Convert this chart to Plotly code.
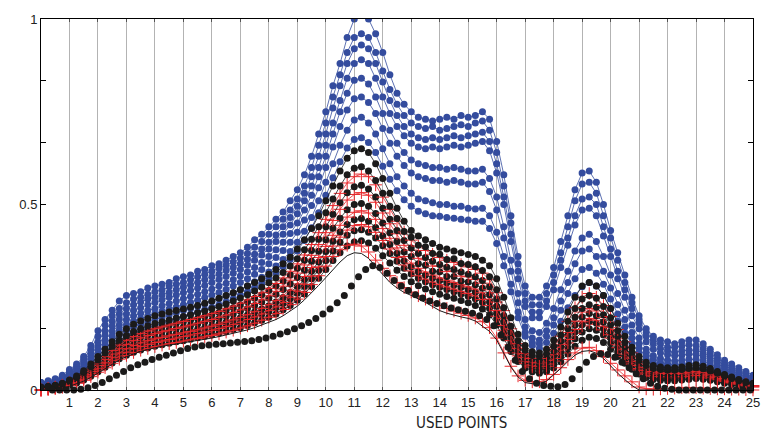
import plotly.graph_objects as go

# sampling grid (x axis "used points")
x_points = [i * 0.25 for i in range(101)]
x_shifted = [0.4 + i * 0.25 for i in range(101)]

x_tick_vals = list(range(1, 26))
x_tick_text = [str(v) for v in x_tick_vals]
y_tick_vals = [0, 1/6, 2/6, 0.5, 4/6, 5/6, 1]
y_tick_text = ["0", "", "", "0.5", "", "", "1"]
x_title = "USED POINTS"

blue_1 = [0.02,0.025,0.03,0.04,0.055,0.07,0.09,0.12,0.16,0.19,
          0.215,0.24,0.255,0.26,0.265,0.275,0.28,0.285,0.29,0.30,
          0.305,0.31,0.32,0.325,0.335,0.34,0.35,0.36,0.37,0.385,
          0.405,0.42,0.44,0.46,0.48,0.51,0.54,0.58,0.63,0.69,
          0.75,0.82,0.88,0.95,1.0,1.02,1.0,0.96,0.91,0.85,
          0.80,0.77,0.75,0.735,0.73,0.725,0.73,0.735,0.73,0.74,
          0.735,0.74,0.75,0.73,0.67,0.58,0.47,0.36,0.28,0.25,
          0.25,0.28,0.33,0.4,0.47,0.54,0.585,0.59,0.56,0.5,
          0.43,0.37,0.31,0.25,0.2,0.165,0.145,0.135,0.13,0.125,
          0.13,0.135,0.135,0.125,0.11,0.095,0.08,0.07,0.06,0.05,
          0.04]
blue_2 = [0.02,0.022,0.028,0.036,0.05,0.065,0.085,0.11,0.145,0.175,
          0.2,0.22,0.235,0.245,0.25,0.258,0.265,0.27,0.278,0.285,
          0.29,0.297,0.305,0.312,0.32,0.328,0.336,0.345,0.355,0.368,
          0.385,0.4,0.42,0.44,0.46,0.485,0.515,0.55,0.6,0.66,
          0.72,0.79,0.85,0.91,0.95,0.96,0.95,0.91,0.86,0.81,
          0.77,0.74,0.72,0.71,0.705,0.71,0.7,0.705,0.71,0.715,
          0.71,0.72,0.725,0.7,0.64,0.55,0.45,0.34,0.26,0.23,
          0.23,0.26,0.31,0.37,0.44,0.51,0.555,0.56,0.53,0.47,
          0.41,0.35,0.29,0.235,0.19,0.155,0.135,0.125,0.115,0.115,
          0.118,0.122,0.12,0.112,0.1,0.085,0.072,0.062,0.053,0.045,
          0.035]
blue_3 = [0.018,0.02,0.025,0.033,0.046,0.06,0.078,0.1,0.13,0.16,
          0.185,0.205,0.22,0.23,0.237,0.245,0.25,0.257,0.263,0.27,
          0.277,0.283,0.29,0.297,0.305,0.313,0.322,0.33,0.34,0.352,
          0.366,0.38,0.398,0.418,0.44,0.465,0.495,0.53,0.575,0.63,
          0.69,0.76,0.82,0.88,0.92,0.93,0.92,0.88,0.83,0.78,
          0.74,0.71,0.69,0.68,0.675,0.68,0.675,0.68,0.685,0.68,
          0.685,0.69,0.695,0.67,0.61,0.52,0.42,0.32,0.24,0.21,
          0.21,0.24,0.29,0.35,0.41,0.47,0.515,0.52,0.5,0.44,
          0.38,0.32,0.27,0.22,0.18,0.145,0.125,0.112,0.105,0.102,
          0.105,0.108,0.107,0.1,0.09,0.078,0.066,0.056,0.048,0.04,
          0.032]
blue_4 = [0.016,0.018,0.022,0.03,0.042,0.055,0.072,0.093,0.12,0.148,
          0.172,0.19,0.205,0.215,0.222,0.23,0.236,0.243,0.25,0.256,
          0.262,0.268,0.275,0.282,0.29,0.298,0.306,0.315,0.325,0.336,
          0.35,0.364,0.38,0.4,0.42,0.445,0.475,0.51,0.55,0.6,
          0.66,0.72,0.78,0.84,0.88,0.89,0.88,0.84,0.79,0.745,
          0.71,0.685,0.665,0.655,0.65,0.655,0.65,0.655,0.66,0.655,
          0.66,0.665,0.67,0.645,0.585,0.5,0.4,0.3,0.225,0.195,
          0.195,0.225,0.27,0.33,0.39,0.445,0.485,0.49,0.47,0.415,
          0.36,0.3,0.25,0.2,0.165,0.13,0.11,0.1,0.095,0.092,
          0.094,0.097,0.096,0.09,0.08,0.07,0.06,0.05,0.043,0.036,
          0.03]
blue_5 = [0.015,0.017,0.02,0.027,0.038,0.05,0.065,0.085,0.11,0.135,
          0.158,0.175,0.19,0.2,0.207,0.214,0.22,0.227,0.233,0.24,
          0.246,0.252,0.258,0.265,0.272,0.28,0.288,0.297,0.307,0.318,
          0.33,0.344,0.36,0.378,0.398,0.422,0.45,0.485,0.525,0.575,
          0.63,0.69,0.75,0.8,0.835,0.84,0.825,0.79,0.745,0.7,
          0.665,0.64,0.62,0.61,0.605,0.6,0.6,0.595,0.6,0.595,
          0.59,0.59,0.595,0.57,0.52,0.44,0.35,0.26,0.19,0.16,
          0.155,0.18,0.22,0.27,0.32,0.375,0.41,0.42,0.4,0.36,
          0.31,0.26,0.215,0.175,0.14,0.11,0.092,0.085,0.08,0.078,
          0.08,0.083,0.083,0.078,0.07,0.062,0.053,0.045,0.038,0.032,
          0.026]
blue_6 = [0.014,0.016,0.019,0.025,0.035,0.046,0.06,0.078,0.1,0.124,
          0.145,0.162,0.176,0.186,0.193,0.2,0.206,0.212,0.218,0.224,
          0.23,0.236,0.242,0.249,0.256,0.263,0.271,0.28,0.29,0.3,
          0.312,0.325,0.34,0.357,0.376,0.398,0.425,0.458,0.497,0.545,
          0.6,0.655,0.71,0.755,0.785,0.79,0.775,0.745,0.705,0.665,
          0.63,0.605,0.585,0.575,0.57,0.565,0.565,0.56,0.565,0.56,
          0.555,0.555,0.56,0.535,0.485,0.41,0.32,0.235,0.17,0.14,
          0.135,0.16,0.195,0.24,0.29,0.34,0.375,0.38,0.36,0.32,
          0.275,0.23,0.19,0.155,0.125,0.1,0.083,0.075,0.07,0.068,
          0.07,0.072,0.072,0.068,0.062,0.055,0.047,0.04,0.034,0.028,
          0.023]
blue_7 = [0.013,0.015,0.018,0.023,0.032,0.042,0.055,0.071,0.092,0.113,
          0.133,0.148,0.16,0.17,0.177,0.184,0.19,0.196,0.202,0.208,
          0.214,0.22,0.226,0.232,0.239,0.246,0.254,0.262,0.271,0.281,
          0.292,0.304,0.318,0.334,0.352,0.373,0.398,0.428,0.465,0.51,
          0.56,0.61,0.66,0.7,0.728,0.735,0.72,0.69,0.65,0.61,
          0.575,0.55,0.53,0.515,0.51,0.505,0.5,0.5,0.495,0.495,
          0.49,0.488,0.49,0.47,0.425,0.36,0.285,0.21,0.155,0.128,
          0.125,0.145,0.175,0.215,0.26,0.3,0.325,0.33,0.315,0.285,
          0.245,0.205,0.17,0.14,0.112,0.09,0.075,0.068,0.063,0.06,
          0.06,0.062,0.062,0.058,0.053,0.047,0.04,0.034,0.029,0.024,
          0.02]
blue_8 = [0.012,0.014,0.017,0.021,0.029,0.038,0.05,0.064,0.083,0.102,
          0.12,0.134,0.146,0.155,0.162,0.168,0.174,0.18,0.186,0.192,
          0.198,0.204,0.21,0.216,0.223,0.23,0.238,0.246,0.255,0.265,
          0.276,0.288,0.301,0.316,0.333,0.352,0.375,0.403,0.437,0.478,
          0.525,0.572,0.615,0.652,0.675,0.68,0.667,0.64,0.603,0.568,
          0.537,0.513,0.495,0.482,0.475,0.47,0.468,0.465,0.463,0.46,
          0.458,0.455,0.455,0.435,0.395,0.335,0.265,0.195,0.145,0.12,
          0.112,0.128,0.153,0.185,0.222,0.255,0.278,0.29,0.28,0.255,
          0.22,0.185,0.153,0.125,0.1,0.08,0.066,0.06,0.056,0.054,
          0.055,0.057,0.057,0.053,0.048,0.043,0.037,0.032,0.027,0.022,
          0.018]

black_1 = [0.008,0.01,0.013,0.018,0.027,0.038,0.052,0.07,0.09,0.11,
           0.13,0.15,0.165,0.177,0.186,0.193,0.2,0.205,0.21,0.214,
           0.218,0.223,0.228,0.234,0.24,0.247,0.255,0.262,0.27,0.28,
           0.29,0.3,0.312,0.325,0.34,0.358,0.38,0.405,0.435,0.47,
           0.51,0.55,0.59,0.625,0.645,0.65,0.64,0.61,0.57,0.53,
           0.49,0.455,0.43,0.415,0.405,0.395,0.385,0.38,0.375,0.37,
           0.365,0.36,0.35,0.335,0.3,0.25,0.195,0.15,0.12,0.103,
           0.1,0.11,0.135,0.17,0.21,0.25,0.28,0.29,0.28,0.255,
           0.22,0.18,0.145,0.115,0.09,0.075,0.066,0.062,0.06,0.06,
           0.062,0.066,0.068,0.064,0.058,0.05,0.042,0.035,0.028,0.022,
           0.018]
black_2 = [0.007,0.009,0.012,0.016,0.024,0.034,0.047,0.063,0.081,0.1,
           0.118,0.134,0.147,0.158,0.166,0.173,0.179,0.184,0.189,0.194,
           0.198,0.203,0.208,0.213,0.219,0.225,0.232,0.24,0.248,0.257,
           0.267,0.277,0.289,0.302,0.317,0.334,0.354,0.378,0.406,0.44,
           0.478,0.515,0.55,0.58,0.598,0.602,0.59,0.565,0.53,0.495,
           0.462,0.427,0.412,0.39,0.386,0.368,0.366,0.352,0.354,0.341,
           0.338,0.332,0.322,0.305,0.27,0.222,0.172,0.133,0.107,0.093,
           0.09,0.098,0.118,0.148,0.185,0.22,0.245,0.255,0.247,0.225,
           0.195,0.16,0.128,0.102,0.08,0.066,0.058,0.055,0.053,0.053,
           0.055,0.058,0.06,0.057,0.051,0.045,0.038,0.031,0.025,0.02,
           0.016]
black_3 = [0.006,0.008,0.011,0.015,0.022,0.031,0.043,0.058,0.075,0.092,
           0.108,0.123,0.136,0.146,0.154,0.16,0.166,0.171,0.175,0.18,
           0.184,0.188,0.193,0.198,0.203,0.209,0.215,0.222,0.23,0.238,
           0.247,0.257,0.268,0.28,0.294,0.31,0.328,0.35,0.376,0.406,
           0.44,0.474,0.505,0.532,0.548,0.552,0.542,0.52,0.49,0.46,
           0.43,0.403,0.383,0.368,0.357,0.347,0.338,0.331,0.325,0.318,
           0.312,0.305,0.295,0.278,0.245,0.2,0.155,0.12,0.096,0.084,
           0.08,0.087,0.105,0.132,0.165,0.196,0.22,0.23,0.223,0.203,
           0.176,0.145,0.116,0.092,0.072,0.059,0.052,0.049,0.048,0.048,
           0.05,0.053,0.055,0.052,0.047,0.041,0.034,0.028,0.023,0.018,
           0.014]
black_4 = [0.005,0.007,0.01,0.014,0.02,0.028,0.039,0.052,0.068,0.084,
           0.099,0.113,0.125,0.135,0.142,0.148,0.153,0.158,0.162,0.166,
           0.17,0.174,0.178,0.183,0.188,0.193,0.199,0.205,0.212,0.22,
           0.228,0.237,0.247,0.258,0.271,0.286,0.303,0.323,0.347,0.374,
           0.405,0.436,0.463,0.486,0.5,0.503,0.495,0.476,0.45,0.424,
           0.4,0.372,0.36,0.34,0.336,0.32,0.319,0.306,0.306,0.294,
           0.291,0.284,0.274,0.257,0.226,0.184,0.142,0.108,0.086,0.075,
           0.071,0.077,0.093,0.117,0.147,0.175,0.197,0.206,0.2,0.183,
           0.158,0.13,0.104,0.082,0.064,0.052,0.046,0.043,0.042,0.042,
           0.044,0.047,0.049,0.046,0.042,0.036,0.03,0.025,0.02,0.016,
           0.012]
black_5 = [0.004,0.006,0.009,0.012,0.018,0.025,0.035,0.047,0.061,0.075,
           0.089,0.102,0.113,0.122,0.129,0.135,0.14,0.144,0.148,0.152,
           0.156,0.16,0.164,0.168,0.173,0.178,0.183,0.189,0.195,0.202,
           0.21,0.218,0.227,0.237,0.249,0.263,0.279,0.298,0.32,0.345,
           0.373,0.401,0.426,0.446,0.459,0.462,0.455,0.438,0.415,0.392,
           0.368,0.348,0.332,0.319,0.31,0.302,0.295,0.289,0.283,0.277,
           0.271,0.264,0.254,0.237,0.207,0.168,0.128,0.097,0.077,0.066,
           0.062,0.067,0.081,0.103,0.13,0.156,0.176,0.185,0.18,0.165,
           0.142,0.116,0.093,0.073,0.057,0.046,0.04,0.037,0.036,0.036,
           0.038,0.041,0.043,0.04,0.036,0.031,0.026,0.021,0.017,0.014,
           0.011]
black_6 = [0.003,0.005,0.007,0.01,0.015,0.022,0.031,0.042,0.055,0.068,
           0.081,0.093,0.103,0.112,0.118,0.124,0.129,0.133,0.137,0.141,
           0.145,0.149,0.153,0.157,0.161,0.166,0.171,0.176,0.182,0.189,
           0.196,0.204,0.212,0.222,0.233,0.246,0.261,0.279,0.3,0.323,
           0.349,0.375,0.398,0.417,0.429,0.432,0.425,0.41,0.389,0.368,
           0.347,0.328,0.313,0.301,0.292,0.284,0.277,0.271,0.265,0.259,
           0.253,0.246,0.236,0.22,0.192,0.155,0.117,0.088,0.069,0.058,
           0.054,0.058,0.07,0.09,0.114,0.138,0.156,0.165,0.161,0.148,
           0.127,0.104,0.083,0.065,0.05,0.04,0.034,0.031,0.03,0.03,
           0.032,0.035,0.037,0.035,0.031,0.027,0.022,0.018,0.015,0.012,
           0.01]
black_7 = [0.002,0.004,0.006,0.009,0.013,0.019,0.027,0.037,0.049,0.061,
           0.073,0.084,0.094,0.102,0.108,0.113,0.118,0.122,0.126,0.13,
           0.133,0.137,0.141,0.145,0.149,0.153,0.158,0.163,0.168,0.174,
           0.181,0.188,0.196,0.205,0.216,0.228,0.242,0.259,0.279,0.301,
           0.325,0.349,0.37,0.388,0.399,0.402,0.396,0.382,0.362,0.342,
           0.323,0.306,0.292,0.281,0.272,0.265,0.258,0.252,0.247,0.241,
           0.235,0.228,0.218,0.202,0.175,0.14,0.104,0.077,0.059,0.049,
           0.045,0.049,0.059,0.076,0.097,0.118,0.134,0.142,0.139,0.128,
           0.11,0.09,0.072,0.056,0.043,0.034,0.028,0.026,0.025,0.025,
           0.027,0.029,0.031,0.029,0.026,0.022,0.018,0.015,0.012,0.01,
           0.008]
black_low = [0.0,0.0,0.0,0.0,0.002,0.006,0.012,0.02,0.03,0.04,
             0.05,0.06,0.068,0.075,0.082,0.088,0.094,0.1,0.106,0.112,
             0.116,0.119,0.121,0.123,0.125,0.127,0.129,0.131,0.133,0.136,
             0.14,0.145,0.151,0.157,0.165,0.173,0.182,0.193,0.205,0.218,
             0.235,0.255,0.28,0.305,0.325,0.335,0.33,0.315,0.295,0.28,
             0.268,0.257,0.248,0.24,0.233,0.227,0.221,0.216,0.212,0.207,
             0.2,0.19,0.173,0.148,0.115,0.08,0.05,0.03,0.018,0.012,
             0.01,0.009,0.015,0.03,0.055,0.075,0.09,0.098,0.096,0.088,
             0.075,0.06,0.044,0.03,0.018,0.01,0.005,0.002,0.0,0.0,
             0.0,0.0,0.0,0.0,0.0,0.0,0.0,0.0,0.0,0.0,
             0.0]

red_1 = [0.0,0.004,0.008,0.013,0.02,0.029,0.041,0.056,0.073,0.09,
         0.106,0.121,0.134,0.144,0.152,0.159,0.165,0.17,0.175,0.18,
         0.185,0.19,0.195,0.2,0.206,0.212,0.219,0.226,0.234,0.243,
         0.252,0.262,0.274,0.287,0.302,0.32,0.34,0.364,0.392,0.424,
         0.46,0.497,0.53,0.558,0.575,0.582,0.575,0.553,0.52,0.487,
         0.455,0.426,0.404,0.388,0.376,0.366,0.357,0.35,0.344,0.338,
         0.332,0.325,0.315,0.297,0.262,0.214,0.165,0.125,0.098,0.085,
         0.085,0.095,0.115,0.145,0.185,0.222,0.25,0.26,0.25,0.228,
         0.198,0.163,0.13,0.1,0.077,0.06,0.05,0.046,0.045,0.045,
         0.046,0.049,0.051,0.048,0.043,0.037,0.031,0.025,0.02,0.016,
         0.012]
red_2 = [0.0,0.003,0.007,0.012,0.018,0.026,0.037,0.05,0.066,0.082,
         0.097,0.111,0.123,0.133,0.14,0.147,0.152,0.157,0.161,0.166,
         0.17,0.175,0.18,0.185,0.19,0.196,0.202,0.209,0.216,0.224,
         0.233,0.243,0.254,0.266,0.28,0.296,0.315,0.337,0.363,0.392,
         0.424,0.457,0.487,0.512,0.527,0.532,0.525,0.506,0.477,0.448,
         0.421,0.39,0.377,0.355,0.351,0.334,0.334,0.319,0.321,0.307,
         0.305,0.298,0.288,0.27,0.237,0.193,0.148,0.112,0.088,0.076,
         0.073,0.08,0.097,0.123,0.155,0.186,0.21,0.22,0.213,0.195,
         0.168,0.138,0.11,0.086,0.066,0.053,0.046,0.043,0.042,0.042,
         0.043,0.046,0.048,0.045,0.04,0.034,0.028,0.023,0.018,0.014,
         0.011]
red_3 = [0.0,0.003,0.006,0.01,0.016,0.023,0.033,0.045,0.059,0.073,
         0.087,0.1,0.111,0.12,0.127,0.133,0.138,0.142,0.146,0.15,
         0.154,0.158,0.162,0.167,0.172,0.177,0.183,0.189,0.196,0.203,
         0.211,0.22,0.23,0.241,0.254,0.269,0.286,0.306,0.33,0.357,
         0.387,0.417,0.444,0.466,0.479,0.483,0.477,0.46,0.435,0.409,
         0.383,0.36,0.342,0.328,0.318,0.31,0.302,0.296,0.29,0.284,
         0.278,0.272,0.262,0.245,0.214,0.174,0.133,0.1,0.078,0.067,
         0.064,0.07,0.085,0.108,0.136,0.163,0.184,0.193,0.188,0.172,
         0.149,0.122,0.097,0.076,0.058,0.046,0.04,0.037,0.036,0.036,
         0.037,0.04,0.042,0.039,0.035,0.03,0.025,0.02,0.016,0.012,
         0.009]
red_4 = [0.0,0.002,0.005,0.009,0.014,0.021,0.03,0.041,0.054,0.067,
         0.08,0.092,0.102,0.111,0.117,0.123,0.128,0.132,0.136,0.14,
         0.144,0.148,0.152,0.156,0.161,0.166,0.171,0.177,0.183,0.19,
         0.197,0.205,0.214,0.224,0.236,0.25,0.266,0.285,0.307,0.332,
         0.36,0.388,0.412,0.431,0.443,0.446,0.44,0.425,0.403,0.38,
         0.357,0.337,0.321,0.308,0.299,0.291,0.284,0.278,0.272,0.266,
         0.26,0.254,0.244,0.228,0.199,0.161,0.122,0.092,0.072,0.062,
         0.059,0.064,0.078,0.1,0.127,0.153,0.173,0.182,0.177,0.162,
         0.14,0.114,0.09,0.07,0.054,0.043,0.037,0.034,0.033,0.033,
         0.034,0.037,0.039,0.036,0.032,0.028,0.023,0.019,0.015,0.011,
         0.008]
red_5 = [0.0,0.002,0.004,0.007,0.012,0.018,0.026,0.036,0.048,0.06,
         0.072,0.083,0.093,0.101,0.107,0.112,0.117,0.121,0.125,0.128,
         0.132,0.135,0.139,0.143,0.147,0.151,0.156,0.161,0.167,0.173,
         0.18,0.188,0.196,0.206,0.217,0.23,0.245,0.263,0.284,0.308,
         0.334,0.36,0.378,0.39,0.393,0.388,0.372,0.35,0.328,0.308,
         0.29,0.276,0.264,0.254,0.245,0.236,0.228,0.22,0.213,0.207,
         0.201,0.194,0.184,0.168,0.14,0.1,0.064,0.038,0.026,0.022,
         0.022,0.028,0.042,0.06,0.082,0.1,0.113,0.115,0.106,0.09,
         0.072,0.054,0.038,0.022,0.008,0.003,0.002,0.003,0.004,0.005,
         0.006,0.007,0.006,0.005,0.004,0.003,0.003,0.002,0.002,0.001,
         0.0]

thin_line = [0.0,0.001,0.002,0.005,0.01,0.016,0.024,0.034,0.046,0.058,
             0.07,0.081,0.09,0.098,0.104,0.109,0.114,0.118,0.121,0.124,
             0.127,0.13,0.133,0.137,0.14,0.144,0.148,0.152,0.157,0.162,
             0.168,0.175,0.182,0.19,0.2,0.212,0.226,0.243,0.262,0.282,
             0.303,0.325,0.345,0.362,0.37,0.368,0.355,0.333,0.31,0.29,
             0.275,0.263,0.255,0.246,0.236,0.225,0.214,0.207,0.201,0.197,
             0.193,0.186,0.172,0.158,0.135,0.1,0.062,0.035,0.02,0.017,
             0.018,0.024,0.04,0.058,0.077,0.094,0.104,0.106,0.099,0.085,
             0.065,0.045,0.028,0.012,0.0,0.0,0.0,0.0,0.0,0.0,
             0.0,0.0,0.0,0.0,0.0,0.0,0.0,0.0,0.0,0.0,
             0.0]

BLUE = "#344c9e"
BLACK = "#1b1a1a"
RED = "#e8262a"

fig = go.Figure()

for ys in [blue_1, blue_2, blue_3, blue_4, blue_5, blue_6, blue_7, blue_8]:
    fig.add_trace(go.Scatter(x=x_points, y=ys, mode="lines+markers",
                             line=dict(color=BLUE, width=0.8),
                             marker=dict(color=BLUE, size=7, symbol="circle"),
                             showlegend=False, hoverinfo="skip"))

def add_black(ys):
    fig.add_trace(go.Scatter(x=x_points, y=ys, mode="lines+markers",
                             line=dict(color=BLACK, width=0.8),
                             marker=dict(color=BLACK, size=7, symbol="circle"),
                             showlegend=False, hoverinfo="skip"))

def add_red(ys):
    fig.add_trace(go.Scatter(x=x_points, y=ys, mode="lines+markers",
                             line=dict(color=RED, width=0.8),
                             marker=dict(color=RED, size=9, symbol="cross-thin",
                                         line=dict(color=RED, width=1)),
                             cliponaxis=False,
                             showlegend=False, hoverinfo="skip"))

add_black(black_7)
add_red(red_5)
add_black(black_6)
add_red(red_4)
add_black(black_5)
add_red(red_3)
add_black(black_4)
add_red(red_2)
add_black(black_3)
add_red(red_1)
add_black(black_2)
add_black(black_1)

fig.add_trace(go.Scatter(x=x_points, y=thin_line, mode="lines",
                         line=dict(color=BLACK, width=1),
                         showlegend=False, hoverinfo="skip"))
fig.add_trace(go.Scatter(x=x_shifted, y=black_low, mode="markers",
                         marker=dict(color=BLACK, size=7, symbol="circle"),
                         cliponaxis=False,
                         showlegend=False, hoverinfo="skip"))

fig.update_layout(
    width=772, height=432,
    margin=dict(l=41, r=13, t=13, b=42),
    paper_bgcolor="white", plot_bgcolor="white",
    font=dict(family="Liberation Sans, Arial, sans-serif", size=12, color="#222"),
    xaxis=dict(range=[0, 25], tickvals=x_tick_vals, ticktext=x_tick_text,
               showgrid=True, gridcolor="#b3b3b3", gridwidth=1,
               showline=True, linecolor="black", linewidth=1, mirror="ticks",
               ticks="inside", ticklen=3, tickcolor="#555", tickwidth=1,
               zeroline=False, tickfont=dict(size=13)),
    yaxis=dict(range=[0, 1], tickvals=y_tick_vals, ticktext=y_tick_text,
               showgrid=False, showline=True, linecolor="black", linewidth=1,
               mirror="ticks", ticks="inside", ticklen=5, tickcolor="black",
               zeroline=False, tickfont=dict(size=13)),
    annotations=[dict(text=x_title, x=0.59, y=-0.088, xref="paper", yref="paper",
                      xanchor="center", yanchor="middle", showarrow=False,
                      font=dict(family="Liberation Sans Narrow, DejaVu Sans Condensed, Liberation Sans, sans-serif",
                                size=15, color="#222"))],
)

fig.write_html("out.html",
               config={"displayModeBar": False},
               post_script="document.body.style.margin='0';document.body.style.padding='0';")
